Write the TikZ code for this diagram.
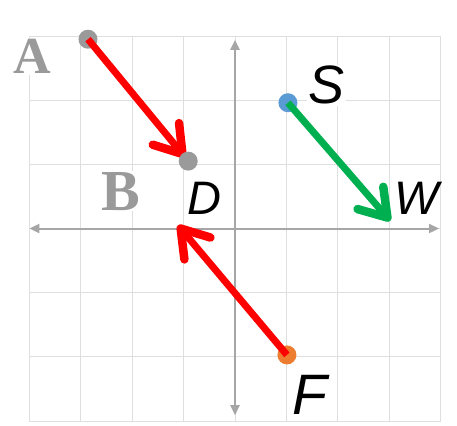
\documentclass[tikz,border=0pt]{standalone}
\usepackage{fontspec}
\setmainfont{Liberation Serif}
\setsansfont{Liberation Sans}
\usetikzlibrary{arrows.meta}
\definecolor{vRed}{HTML}{FF0000}
\definecolor{vGreen}{HTML}{00B050}
\definecolor{pBlue}{HTML}{5B9BD5}
\definecolor{pOrange}{HTML}{ED7D31}
\definecolor{pGray}{HTML}{9A9A9A}
\definecolor{axGray}{HTML}{A6A6A6}
\definecolor{grGray}{HTML}{DFDFDF}
\tikzset{
  sgrid/.style={grGray, line width=1pt, xstep=51.4pt, ystep=64.17pt},
  saxis/.style={axGray, line width=2pt,
    {Triangle[length=10pt,width=9pt]}-{Triangle[length=10pt,width=9pt]}},
  svec/.style={line width=7pt,
    -{Straight Barb[round,length=26pt,width=34pt,line width'=8.5pt]}},
  sdot/.style={circle, inner sep=0pt, minimum size=19pt},
  sname/.style={fill=white, inner sep=1pt,
    font=\sffamily\itshape\fontsize{47}{47}\selectfont},
  sletter/.style={fill=white, inner sep=1pt, text=pGray,
    font=\bfseries\fontsize{52}{52}\selectfont},
}

\begin{document}
\begin{tikzpicture}[x=51.4pt, y=64.17pt]
\useasboundingbox (-4.572,-3.062) rectangle (4.319,3.561);
\fill[white] (-4.572,-3.062) rectangle (4.319,3.561);
\draw[sgrid] (-4,-3) grid (4,3);
\draw[saxis] (-4,0) -- (3.97,0);
\draw[saxis] (0,-2.91) -- (0,2.94);
% labels
\node[sletter] (lA) at (-3.95,2.68) {A};
\node[sletter, font=\bfseries\fontsize{58}{58}\selectfont] (lB) at (-2.22,0.58) {B};
\node[sname] (lD) at (-0.60,0.47) {D};
\node[sname, font=\sffamily\itshape\fontsize{54}{54}\selectfont] (lS) at (1.78,2.23) {S};
\node[sname] (lW) at (3.53,0.47) {W};
\node[sname, inner sep=0pt, font=\sffamily\itshape\fontsize{57}{57}\selectfont] (lF) at (1.46,-2.60) {F};
% points
\node[sdot, fill=pGray] (pA) at (-2.86,2.95) {};
\node[sdot, fill=pOrange] (pF) at (1.01,-1.97) {};
\coordinate (tD) at (-0.97,1.11);
\coordinate (tB) at (-1.11,0.05);
\coordinate (tW) at (3.02,0.12);
\draw[svec, vRed] (pA.center) -- (tD);
\draw[svec, vRed] (pF.center) -- (tB);
\node[sdot, fill=pGray] (pD) at (-0.91,1.05) {};
\node[sdot, fill=pBlue] (pS) at (1.03,1.96) {};
\draw[svec, vGreen] (pS.center) -- (tW);
\end{tikzpicture}
\end{document}
